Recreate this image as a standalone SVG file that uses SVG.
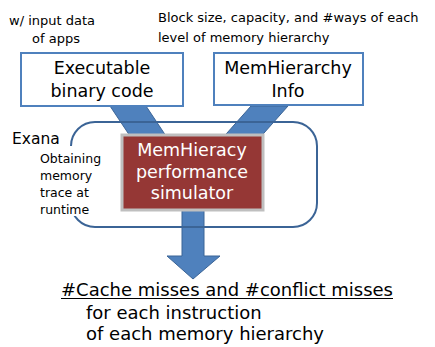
<svg xmlns="http://www.w3.org/2000/svg" width="435" height="347" viewBox="0 0 435 347">
<style>
text{font-family:"DejaVu Sans","Noto Sans",Arial,sans-serif;fill:#000}
.box{fill:#fff;stroke:#4f81bd;stroke-width:2}
.band{fill:#4f81bd;stroke:#3b6496;stroke-width:1}
.big{font-size:17.5px}
.small{font-size:12.5px}
.top{font-size:13px}
.lbl{font-size:17.5px}
.res{font-size:18px}
</style>
<rect width="435" height="347" fill="#fff"/>
<g id="connectors">
<polygon class="band" points="110,106 146,106 170,142 134,142"/>
<polygon class="band" points="251,106 288,106 256,142 219,142"/>
<polygon class="band" points="182,208 204,208 204,256 220,256 193,279 167,256 182,256"/>
</g>
<g id="exana">
<rect x="71" y="122" width="246" height="105" rx="24" ry="24" fill="none" stroke="#3b6496" stroke-width="2"/>
<rect x="36" y="146" width="74" height="70" fill="#fff"/>
<text x="12" y="144" style="font-size:15.5px">Exana</text>
<text class="small" x="40" y="163">Obtaining</text>
<text class="small" x="40" y="180">memory</text>
<text class="small" x="40" y="197">trace at</text>
<text class="small" x="40" y="214">runtime</text>
</g>
<g id="exe">
<rect class="box" x="21" y="53" width="162" height="53"/>
<text class="big" x="102" y="74" text-anchor="middle">Executable</text>
<text class="big" x="102" y="97" text-anchor="middle">binary code</text>
</g>
<g id="memh">
<rect class="box" x="214" y="53" width="149" height="52"/>
<text class="big" x="288" y="74" text-anchor="middle">MemHierarchy</text>
<text class="big" x="288" y="97" text-anchor="middle">Info</text>
</g>
<g id="sim">
<rect x="122" y="135" width="141" height="75" fill="#953735" stroke="#bfbfbf" stroke-width="3"/>
<text class="lbl" x="192" y="156" text-anchor="middle" style="fill:#fff">MemHieracy</text>
<text class="lbl" x="192" y="178" text-anchor="middle" style="fill:#fff">performance</text>
<text class="lbl" x="192" y="199" text-anchor="middle" style="fill:#fff">simulator</text>
</g>
<g id="notes">
<text class="top" x="9" y="25">w/ input data</text>
<text class="top" x="32" y="43">of apps</text>
<text class="top" x="158" y="22">Block size, capacity, and #ways of each</text>
<text class="top" x="158" y="42">level of memory hierarchy</text>
</g>
<g id="result">
<text class="res" x="61" y="296">#Cache misses and #conflict misses</text>
<line x1="61" y1="298.5" x2="393" y2="298.5" stroke="#000" stroke-width="1.2"/>
<text class="res" x="86" y="319">for each instruction</text>
<text class="res" x="86" y="340">of each memory hierarchy</text>
</g>
</svg>
